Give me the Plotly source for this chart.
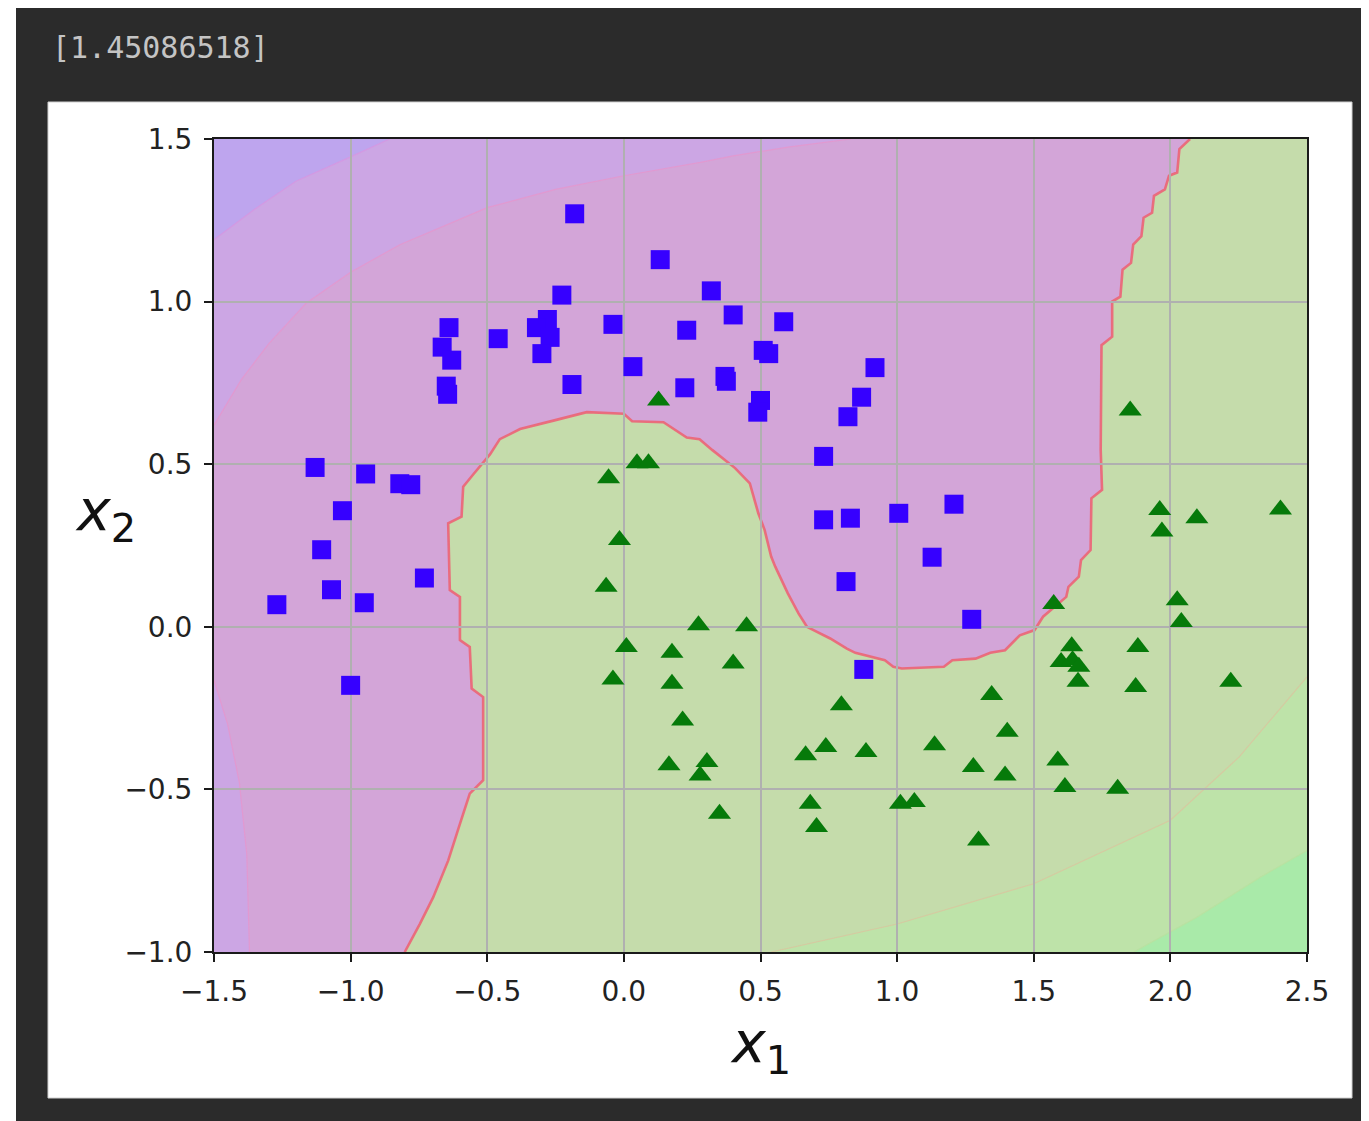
import plotly.graph_objects as go

# ---------------- data ----------------
printed_value = "[1.45086518]"

# class 0 (blue squares)
sq_x = [-0.18, 0.133, 0.32, -0.227, 0.40, 0.585, -0.04, 0.23, -0.28, -0.32,
        -0.27, -0.30, -0.64, -0.665, -0.63, -0.46, -0.65, -0.645, -0.19, 0.033,
        0.223, 0.37, 0.375, 0.51, 0.53, 0.50, 0.49, 0.919, 0.87, 0.82,
        0.731, 0.731, 0.829, 1.006, 1.208, 1.128, 0.813, 1.273, 0.878, -1.13,
        -0.945, -0.82, -0.78, -1.03, -1.106, -1.07, -0.95, -0.73, -1.27, -1.0]
sq_y = [1.27, 1.129, 1.033, 1.02, 0.959, 0.938, 0.93, 0.912, 0.945, 0.92,
        0.89, 0.84, 0.92, 0.86, 0.82, 0.886, 0.74, 0.715, 0.745, 0.80,
        0.735, 0.77, 0.755, 0.85, 0.84, 0.696, 0.66, 0.797, 0.706, 0.646,
        0.524, 0.329, 0.334, 0.349, 0.377, 0.214, 0.139, 0.023, -0.131, 0.49,
        0.47, 0.44, 0.437, 0.357, 0.237, 0.114, 0.074, 0.15, 0.068, -0.18]

# class 1 (green triangles)
tri_x = [0.127, 1.853, 0.048, 0.09, -0.056, -0.016, -0.065, 0.009, -0.04, 1.961,
         2.097, 2.403, 1.969, 1.573, 2.025, 2.04, 0.273, 0.449, 0.176, 0.40,
         0.176, 1.639, 1.60, 1.642, 1.665, 1.662, 1.881, 1.873, 2.221, 1.346,
         0.796, 0.215, 1.403, 1.137, 0.665, 0.739, 0.886, 0.165, 0.304, 0.279,
         1.279, 1.395, 1.588, 1.614, 1.807, 0.35, 0.682, 0.705, 1.012, 1.063,
         1.298]
tri_y = [0.696, 0.665, 0.503, 0.503, 0.457, 0.267, 0.123, -0.062, -0.162, 0.359,
         0.334, 0.361, 0.293, 0.070, 0.082, 0.015, 0.005, 0.002, -0.080, -0.113,
         -0.175, -0.06, -0.108, -0.103, -0.123, -0.169, -0.062, -0.185, -0.169, -0.21,
         -0.241, -0.288, -0.323, -0.364, -0.395, -0.37, -0.385, -0.426, -0.416, -0.457,
         -0.431, -0.457, -0.411, -0.493, -0.498, -0.575, -0.544, -0.616, -0.544, -0.539,
         -0.657]

# predicted decision boundary (edge of the green region)
bnd_x = [-0.802, -0.747, -0.698, -0.643, -0.60, -0.564, -0.515, -0.515, -0.557, -0.564,
         -0.60, -0.60, -0.637, -0.643, -0.594, -0.588, -0.55, -0.49, -0.454, -0.38,
         -0.258, -0.136, 0.0, 0.03, 0.145, 0.23, 0.277, 0.323, 0.407, 0.461,
         0.492, 0.515, 0.539, 0.554, 0.60, 0.639, 0.67, 0.755, 0.816, 0.847,
         0.955, 0.986, 1.017, 1.171, 1.202, 1.287, 1.341, 1.395, 1.449, 1.503,
         1.534, 1.619, 1.627, 1.665, 1.673, 1.708, 1.711, 1.75, 1.745, 1.748,
         1.787, 1.787, 1.817, 1.825, 1.856, 1.864, 1.894, 1.902, 1.933, 1.94,
         1.98, 1.995, 2.025, 2.033, 2.072]
bnd_y = [-1.0, -0.914, -0.832, -0.719, -0.606, -0.513, -0.472, -0.216, -0.19, -0.062,
         -0.041, 0.092, 0.113, 0.318, 0.339, 0.431, 0.47, 0.53, 0.577, 0.608,
         0.634, 0.66, 0.655, 0.632, 0.629, 0.582, 0.577, 0.544, 0.488, 0.441,
         0.349, 0.298, 0.216, 0.185, 0.103, 0.041, 0.0, -0.036, -0.067, -0.080,
         -0.103, -0.123, -0.128, -0.123, -0.103, -0.098, -0.080, -0.072, -0.026, -0.010,
         0.031, 0.092, 0.123, 0.154, 0.205, 0.236, 0.395, 0.421, 0.544, 0.866,
         0.892, 1.0, 1.015, 1.098, 1.119, 1.175, 1.201, 1.258, 1.273, 1.325,
         1.345, 1.387, 1.397, 1.469, 1.5]

# faint decision-function level lines
lvl_a_x = [-1.5, -1.35, -1.2, -1.0, -0.857]
lvl_a_y = [1.19, 1.285, 1.37, 1.445, 1.5]
lvl_b_x = [-1.5, -1.4, -1.3, -1.163, -1.0, -0.82, -0.5, -0.25, 0.0, 0.28, 0.4, 0.6, 0.831]
lvl_b_y = [0.62, 0.76, 0.87, 0.995, 1.09, 1.175, 1.289, 1.345, 1.387, 1.428, 1.448, 1.475, 1.5]
lvl_c_x = [-1.5, -1.45, -1.407, -1.38, -1.37]
lvl_c_y = [-0.164, -0.3, -0.48, -0.7, -1.0]
lvl_d_x = [0.539, 1.0, 1.5, 2.0, 2.252, 2.5]
lvl_d_y = [-1.0, -0.914, -0.79, -0.595, -0.40, -0.154]
lvl_e_x = [1.866, 2.097, 2.329, 2.5]
lvl_e_y = [-1.0, -0.893, -0.77, -0.688]

x_ticks = [-1.5, -1.0, -0.5, 0.0, 0.5, 1.0, 1.5, 2.0, 2.5]
y_ticks = [-1.0, -0.5, 0.0, 0.5, 1.0, 1.5]
X_RANGE = [-1.5, 2.5]
Y_RANGE = [-1.0, 1.5]

# ---------------- layout geometry ----------------
OFF = 8                       # browser body margin
WIN_W, WIN_H = 1369, 1121
W, H = WIN_W - OFF, WIN_H - OFF
PLOT_L, PLOT_R, PLOT_T, PLOT_B = 214, 1307, 139, 952   # window pixels
ML, MT = PLOT_L - OFF, PLOT_T - OFF
MR, MB = W - (PLOT_R - OFF), H - (PLOT_B - OFF)
PW = W - ML - MR
PH = H - MT - MB


def xp(px):
    return (px - OFF - ML) / PW


def yp(py):
    return (H - MB - (py - OFF)) / PH


def path(xs, ys, close=True):
    s = "M " + " L ".join(f"{x},{y}" for x, y in zip(xs, ys))
    return s + (" Z" if close else "")


x0, x1 = X_RANGE
y0, y1 = Y_RANGE

regions = [
    (path([x0, x1, x1, x0], [y0, y0, y1, y1]), "#d3a5d8"),
    (path(lvl_b_x + [x0], lvl_b_y + [y1]), "#cca6e4"),
    (path(lvl_c_x + [x0], lvl_c_y + [y0]), "#cca6e4"),
    (path(lvl_a_x + [x0], lvl_a_y + [y1]), "#bea5ee"),
    (path(bnd_x + [x1, x1], bnd_y + [y1, y0]), "#c5dcab"),
    (path(lvl_d_x + [x1], lvl_d_y + [y0]), "#bee3a9"),
    (path(lvl_e_x + [x1], lvl_e_y + [y0]), "#a9eaa9"),
]

shapes = [
    # notebook output cell background
    dict(type="rect", xref="paper", yref="paper", layer="below",
         x0=xp(16), x1=xp(WIN_W + 10), y0=yp(7), y1=yp(WIN_H + 10),
         fillcolor="#2b2b2b", line=dict(width=0)),
    # white figure card
    dict(type="rect", xref="paper", yref="paper", layer="below",
         x0=xp(48), x1=xp(1352), y0=yp(102), y1=yp(1098),
         fillcolor="#ffffff", line=dict(color="#d0d0d0", width=1)),
]
for p, c in regions:
    shapes.append(dict(type="path", xref="x", yref="y", layer="below", path=p,
                       fillcolor=c, line=dict(width=0)))
for xs, ys, c in [(lvl_a_x, lvl_a_y, "rgba(215,150,225,0.8)"),
                  (lvl_b_x, lvl_b_y, "rgba(230,150,205,0.8)"),
                  (lvl_c_x, lvl_c_y, "rgba(230,150,205,0.8)"),
                  (lvl_d_x, lvl_d_y, "rgba(215,200,160,0.9)"),
                  (lvl_e_x, lvl_e_y, "rgba(185,225,160,0.9)")]:
    shapes.append(dict(type="path", xref="x", yref="y", layer="below",
                       path=path(xs, ys, close=False), line=dict(color=c, width=1.2)))
shapes.append(dict(type="path", xref="x", yref="y", layer="below",
                   path=path(bnd_x, bnd_y, close=False),
                   line=dict(color="rgba(236,100,118,0.9)", width=2.6)))

fig = go.Figure()
fig.add_trace(go.Scatter(x=sq_x, y=sq_y, mode="markers",
                         marker=dict(symbol="square", size=19, color="#3600ff",
                                     line=dict(width=0)),
                         showlegend=False, hoverinfo="skip"))
fig.add_trace(go.Scatter(x=tri_x, y=tri_y, mode="markers",
                         marker=dict(symbol="triangle-up", size=20, color="#067a0a",
                                     line=dict(width=0)),
                         showlegend=False, hoverinfo="skip"))

axis_common = dict(
    showgrid=True, gridcolor="#b0b0b0", gridwidth=1.6,
    zeroline=False, showline=True, linecolor="#1a1a1a", linewidth=2, mirror=True,
    ticks="outside", ticklen=8, tickwidth=2, tickcolor="#1a1a1a",
    tickfont=dict(family="DejaVu Sans", size=28, color="#222222"),
    tickformat=".1f",
)

fig.update_layout(
    width=W, height=H,
    margin=dict(l=ML, r=MR, t=MT, b=MB, pad=0),
    paper_bgcolor="#ffffff", plot_bgcolor="rgba(0,0,0,0)",
    shapes=shapes,
    xaxis=dict(range=X_RANGE, tickvals=x_ticks, ticklabelstandoff=5, **axis_common),
    yaxis=dict(range=Y_RANGE, tickvals=y_ticks, ticklabelstandoff=6, **axis_common),
    annotations=[
        dict(text=printed_value, xref="paper", yref="paper", x=xp(50), y=yp(48),
             xanchor="left", yanchor="middle", showarrow=False,
             font=dict(family="DejaVu Sans Mono", size=30, color="#c4c4c4")),
        dict(text="<i>x</i><sub>1</sub>", xref="paper", yref="paper",
             x=xp(760), y=yp(1046), xanchor="center", yanchor="middle", showarrow=False,
             font=dict(family="DejaVu Sans", size=57, color="#111111")),
        dict(text="<i>x</i><sub>2</sub>", xref="paper", yref="paper",
             x=xp(105), y=yp(514), xanchor="center", yanchor="middle", showarrow=False,
             font=dict(family="DejaVu Sans", size=57, color="#111111")),
    ],
)

fig.write_html("out.html")
